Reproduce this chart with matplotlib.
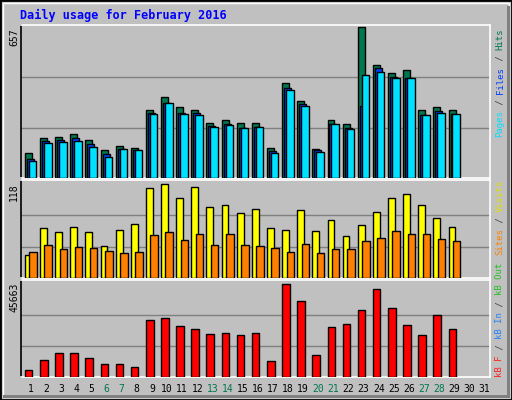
import matplotlib
matplotlib.use("Agg")
import matplotlib.pyplot as plt
from matplotlib.patches import Rectangle
import numpy as np

days = [str(d) for d in range(1, 32)]
weekend = [6, 7, 13, 14, 20, 21, 27, 28]
hits = [108,173,177,190,164,121,138,130,298,354,311,294,238,251,238,238,130,415,337,125,251,233,657,493,458,471,298,311,294]
files = [82,160,164,173,147,104,125,121,281,328,285,281,225,233,216,220,117,393,324,121,233,216,315,480,441,436,272,290,277]
pages = [73,151,156,160,134,91,125,121,277,328,277,272,220,229,216,220,108,385,315,112,233,212,449,462,436,436,272,281,277]
visits = [29,62,58,64,57,40,60,67,113,118,100,114,89,91,82,87,62,60,85,59,73,52,66,83,100,105,91,75,64]
sites = [32,41,36,39,37,34,31,32,54,58,48,55,41,55,41,40,37,32,43,31,36,36,46,50,59,55,55,49,46]
kbf = [3666,8166,11666,11666,9166,6166,6166,4666,27664,28664,25164,23665,21165,21665,20665,21665,7666,45663,37163,10666,24665,26164,32664,43163,33664,25664,20665,30164,23665]

W, H = 512, 400
fig = plt.figure(figsize=(W/100, H/100), dpi=100)
fig.patch.set_facecolor("#C0C0C0")
mono = "DejaVu Sans Mono"

# frame
fig.add_artist(Rectangle((0, 0), 1, 1, transform=fig.transFigure, fill=False, ec="black", lw=2))
fig.add_artist(Rectangle((3/W, 3/H), 1-6/W, 1-6/H, transform=fig.transFigure, fill=False, ec="white", lw=1))
fig.add_artist(Rectangle((507/W, 3/H), 3/W, 1-9/H, transform=fig.transFigure, color="#808080", lw=0))
fig.add_artist(Rectangle((3/W, 2/H), 1-5/W, 3/H, transform=fig.transFigure, color="#808080", lw=0))

fig.text(20/W, 1-15/H, "Daily usage for February 2016", color="#0000FF", fontsize=8.5,
         fontweight="bold", family=mono, va="center", ha="left")

def mkax(top, bottom):
    ax = fig.add_axes([21/W, 1-bottom/H, (490-21)/W, (bottom-top)/H])
    ax.set_facecolor("#C0C0C0")
    ax.set_xlim(0, 31)
    ax.set_xticks([])
    ax.set_yticks([])
    for s in ax.spines.values():
        s.set_color("white"); s.set_linewidth(1.2)
    ax.spines["left"].set_color("black")
    return ax

x = np.arange(len(hits))
bkw = dict(align="edge", edgecolor="black", linewidth=1, zorder=3)

ax1 = mkax(25, 178)
ax1.set_ylim(0, 657*152/150)
for g in (657/3, 2*657/3):
    ax1.axhline(g, color="#808080", lw=1, zorder=1)
ax1.bar(x+0.26, hits, 0.46, color="#007750", **bkw)
ax1.bar(x+0.39, files, 0.46, color="#0040FF", **bkw)
ax1.bar(x+0.52, pages, 0.5, color="#00E0FF", **bkw)

ax2 = mkax(180, 278)
ax2.set_ylim(0, 118*1.04)
for g in (118/3, 2*118/3):
    ax2.axhline(g, color="#808080", lw=1, zorder=1)
ax2.bar(x+0.26, visits, 0.45, color="#FFFF00", **bkw)
ax2.bar(x+0.55, sites, 0.5, color="#FF8000", **bkw)

ax3 = mkax(280, 377)
ax3.set_ylim(0, 45663*1.04)
for g in (45663/3, 2*45663/3):
    ax3.axhline(g, color="#808080", lw=1, zorder=1)
ax3.bar(x+0.26, kbf, 0.5, color="#FF0000", **bkw)

for i, d in enumerate(days):
    c = "#007750" if (i+1) in weekend else "black"
    fig.text((21 + (i+0.65)*469/31)/W, 1-389/H, d, color=c, fontsize=7, family=mono,
             ha="center", va="center")

for lab, ytop in (("657", 28), ("118", 183), ("45663", 283)):
    fig.text(14/W, 1-ytop/H, lab, rotation=90, fontsize=7, family=mono, ha="center", va="top")

FS = 6.5
def rlabel(parts, ybottom):
    cw = FS*100/72*0.602
    y = ybottom
    for txt, col in parts:
        fig.text(500/W, 1-y/H, txt, rotation=90, fontsize=FS, family=mono, color=col,
                 ha="center", va="bottom", rotation_mode="anchor" if False else "default")
        y -= cw*len(txt)

rlabel([("Pages", "#00E0FF"), (" / ", "#404040"), ("Files", "#0040FF"), (" / ", "#404040"), ("Hits", "#007750")], 137)
rlabel([("Sites", "#FF8000"), (" / ", "#404040"), ("Visits", "#E0E000")], 255)
rlabel([("kB F", "#FF2020"), (" / ", "#404040"), ("kB In", "#2080FF"), (" / ", "#404040"), ("kB Out", "#20C020")], 377)

fig.savefig("out.png", dpi=100, facecolor=fig.get_facecolor())
